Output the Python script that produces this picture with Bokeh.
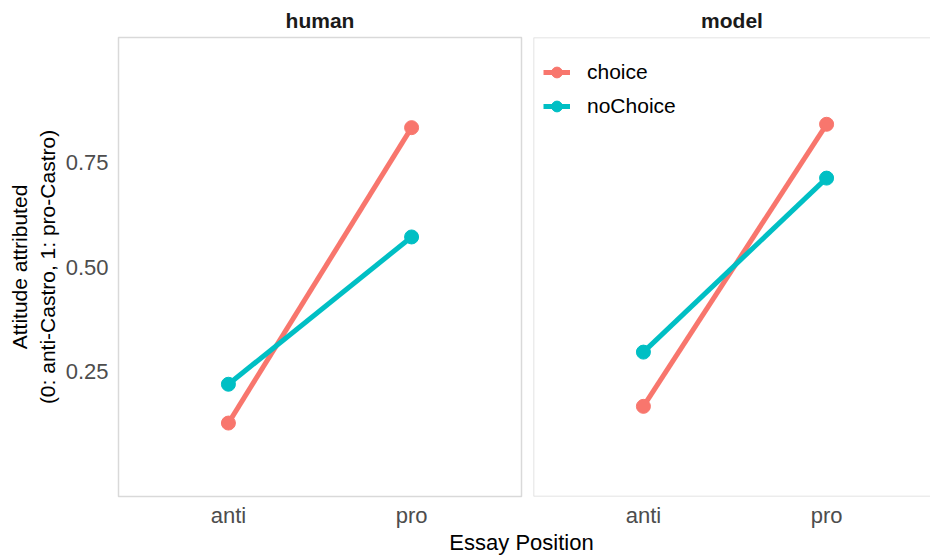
from bokeh.plotting import figure
from bokeh.layouts import column, row
from bokeh.models import Range1d, FixedTicker, Legend, LegendItem, Span, Label
from bokeh.embed import file_html
from bokeh.resources import INLINE

# Essay positions (x categories) and attitude attributed per condition
positions = ["anti", "pro"]
human_choice = [0.126, 0.834]
human_nochoice = [0.219, 0.572]
model_choice = [0.166, 0.842]
model_nochoice = [0.296, 0.713]
y_ticks = [0.25, 0.50, 0.75]
y_tick_labels = ["0.25", "0.50", "0.75"]

FONT = "Liberation Sans"
RED = "#F8766D"
TEAL = "#00BFC4"
BORDER = "#D9D9D9"

xpos = [i + 1 for i in range(len(positions))]
y_range = Range1d(-0.05, 1.05)

ROW_H = 531


def style(p, title):
    p.title.text = title
    p.title.align = "center"
    p.title.text_font = FONT
    p.title.text_font_size = "21px"
    p.title.text_font_style = "bold"
    p.title.text_color = "#1A1A1A"
    p.title.standoff = 12
    p.grid.visible = False
    p.background_fill_color = "white"
    p.border_fill_color = "white"
    p.xaxis.ticker = FixedTicker(ticks=xpos)
    p.xaxis.major_label_overrides = {x: lab for x, lab in zip(xpos, positions)}
    for ax in p.axis:
        ax.axis_line_color = None
        ax.major_tick_line_color = None
        ax.minor_tick_line_color = None
        ax.major_tick_out = 0
        ax.major_tick_in = 0
        ax.major_label_text_font = FONT
        ax.major_label_text_font_size = "22px"
        ax.major_label_text_color = "#4D4D4D"
    p.xaxis.major_label_standoff = 6


def draw(p, choice, nochoice):
    r = {}
    for name, vals, col in (("choice", choice, RED), ("noChoice", nochoice, TEAL)):
        ln = p.line(xpos, vals, line_color=col, line_width=5)
        pt = p.scatter(xpos, vals, size=14, fill_color=col, line_color=col)
        r[name] = [ln, pt]
    return r


# left panel: human
p1 = figure(width=527, height=ROW_H, x_range=Range1d(0.4, 2.6), y_range=y_range,
            output_backend="svg", toolbar_location=None,
            min_border_left=118, min_border_right=6, min_border_top=36,
            min_border_bottom=ROW_H - 496)
style(p1, "human")
p1.outline_line_color = BORDER
p1.outline_line_width = 1.5
p1.yaxis.ticker = FixedTicker(ticks=y_ticks)
p1.yaxis.major_label_overrides = {t: lab for t, lab in zip(y_ticks, y_tick_labels)}
p1.yaxis.major_label_standoff = 10
p1.yaxis.axis_label = "Attitude attributed\n(0: anti-Castro, 1: pro-Castro)"
p1.yaxis.axis_label_text_font = FONT
p1.yaxis.axis_label_text_font_size = "21px"
p1.yaxis.axis_label_text_font_style = "normal"
p1.yaxis.axis_label_text_color = "black"
p1.yaxis.axis_label_standoff = 4
draw(p1, human_choice, human_nochoice)

# right panel: model (its right edge runs off the canvas)
p2 = figure(width=403, height=ROW_H, x_range=Range1d(0.4, 0.4 + 2.2 * 397 / 403), y_range=y_range,
            y_axis_location=None, output_backend="svg", toolbar_location=None,
            min_border_left=6, min_border_right=0, min_border_top=36,
            min_border_bottom=ROW_H - 496)
style(p2, "model")
p2.title.offset = 3
p2.outline_line_color = None
for loc, dim in ((1.05, "width"), (-0.05, "width"), (0.4, "height")):
    p2.add_layout(Span(location=loc, dimension=dim, line_color=BORDER, line_width=1.5))
rend = draw(p2, model_choice, model_nochoice)

legend = Legend(items=[LegendItem(label=k, renderers=v) for k, v in rend.items()],
                location=(10, 373), orientation="vertical")
legend.border_line_color = None
legend.background_fill_alpha = 0
legend.padding = 0
legend.margin = 0
legend.spacing = 0
legend.glyph_width = 27
legend.glyph_height = 34
legend.label_height = 34
legend.label_standoff = 17
legend.label_text_font = FONT
legend.label_text_font_size = "21px"
legend.label_text_color = "black"
p2.add_layout(legend)

# shared x-axis title spanning both panels
BOT_H = 557 - ROW_H
pb = figure(width=930, height=BOT_H, x_range=Range1d(0, 930), y_range=Range1d(0, BOT_H),
            x_axis_location=None, y_axis_location=None, output_backend="svg",
            toolbar_location=None, min_border=0)
pb.outline_line_color = None
pb.grid.visible = False
pb.add_layout(Label(x=521, y=BOT_H - 11, text="Essay Position", text_align="center",
                    text_baseline="middle", text_font=FONT, text_font_size="22px",
                    text_color="black"))

layout = column(row(p1, p2, spacing=0), pb, spacing=0)
open("out.html", "w").write(file_html(layout, INLINE))
